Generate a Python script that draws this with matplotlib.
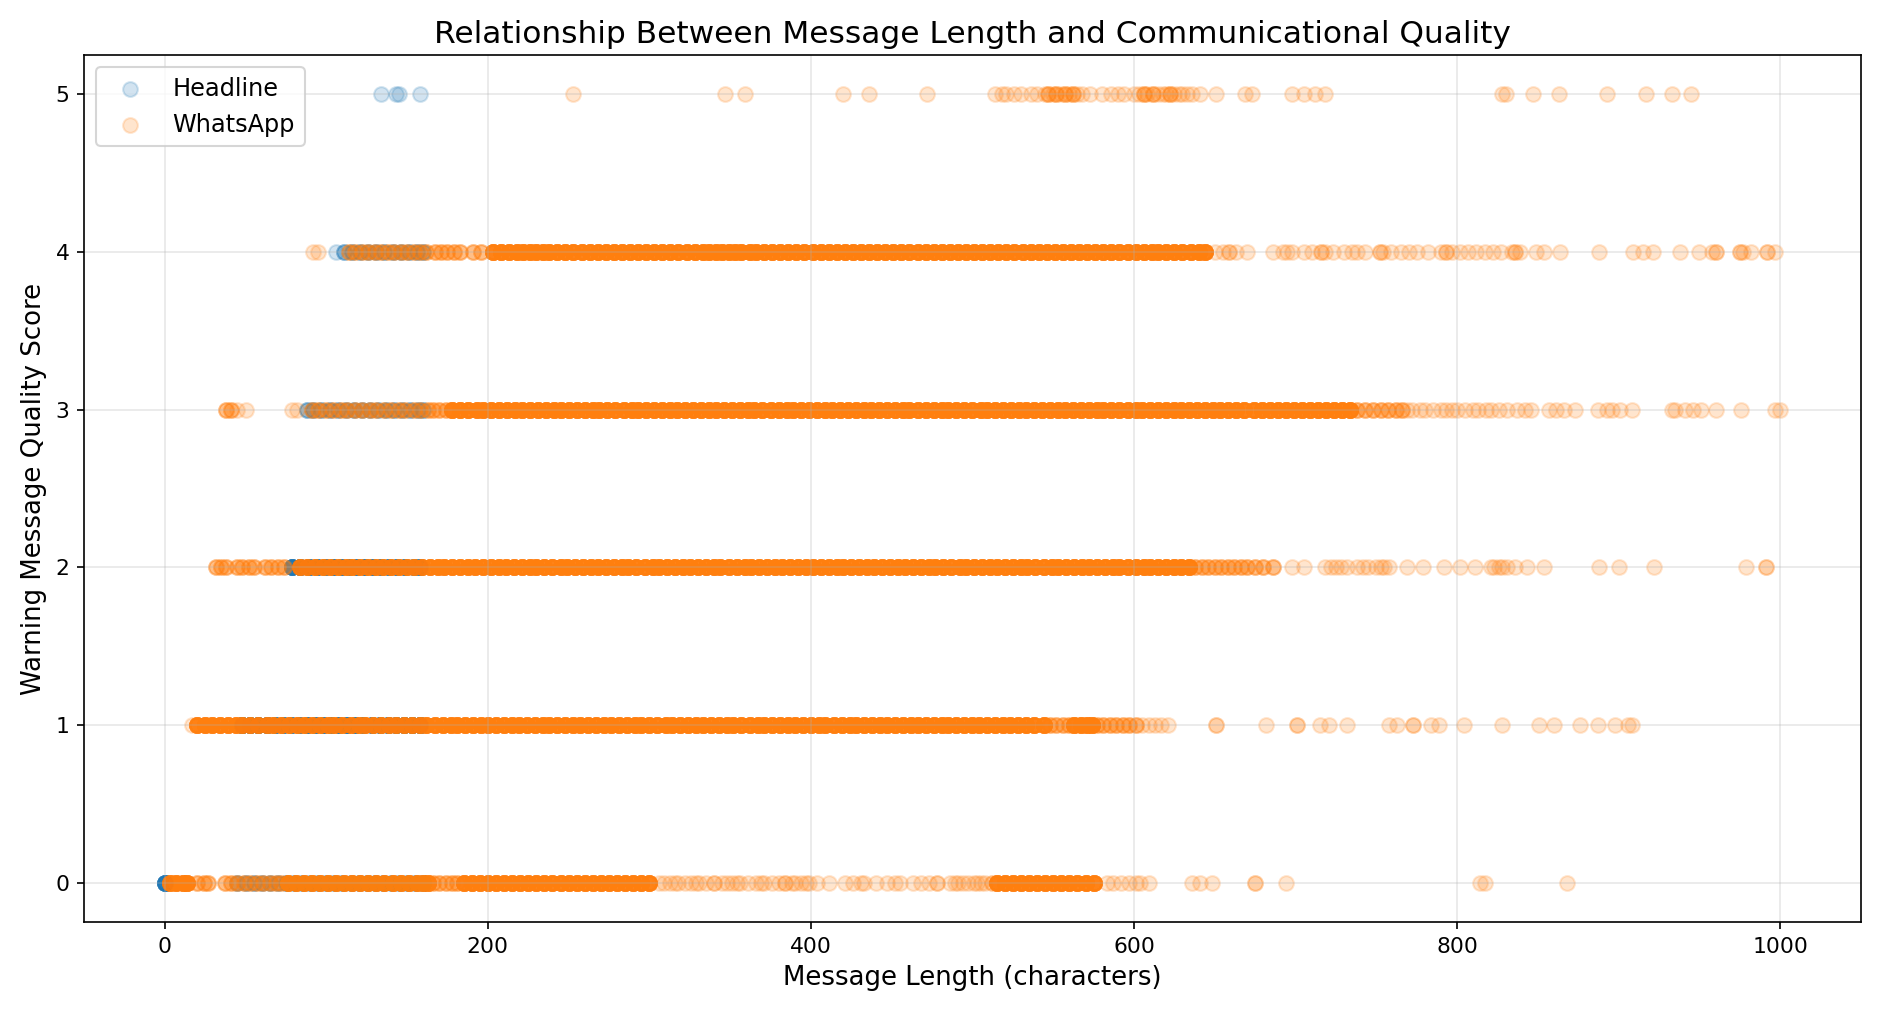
import matplotlib
matplotlib.use("Agg")
import matplotlib.pyplot as plt
import numpy as np

# messages per score level, grouped by how many messages share a length:
# *_one = one message each, *_few = a few (FEW), *_many = a pile (MANY)
FEW, MANY = 3, 14
scores = [0, 1, 2, 3, 4, 5]

# ---- Headline ----
hl_one = {4: [106], 5: [134, 143, 145, 158]}
hl_few = {
    0: [45, 50, 55, 60, 65, 70, 75, 80, 85, 90, 95, 100, 105, 110, 115, 120,
        125, 130, 135, 140, 145, 150, 155, 160],
    3: [88, 92, 97, 102, 107, 112, 117, 122, 127, 132, 137, 142, 147, 152, 157, 160],
    4: [111, 116, 121, 126, 131, 136, 141, 146, 151, 156, 160],
}
hl_many = {
    0: [0],
    1: [48, 53, 58, 63, 68, 73, 78, 83, 88, 93, 98, 103, 108, 113, 118, 123, 128,
        133, 138, 143, 148, 153, 158],
    2: [79, 84, 89, 94, 99, 104, 109, 114, 119, 124, 129, 134, 139, 144, 149, 154, 158],
}

# ---- WhatsApp ----
wa_one = {
    0: [306, 309, 313, 318, 322, 326, 331, 335, 340, 340, 345, 351, 356, 361, 366, 371,
        376, 380, 384, 384, 390, 394, 399, 404, 411, 421, 426, 433, 440, 447, 455, 463,
        473, 478, 478, 486, 491, 494, 501, 505, 508, 512, 512, 583, 587, 592, 597, 601,
        604, 609, 636, 641, 648, 675, 675, 694, 814, 817, 868,
        316, 329, 348, 354, 369, 388, 397, 431, 452, 468, 489, 497, 503],
    1: [17, 605, 609, 613, 617, 621, 651, 651, 682, 701, 701, 715, 721, 732, 758, 763,
        773, 773, 784, 789, 804, 828, 851, 860, 876, 887, 898, 906, 908],
    2: [698, 705, 718, 722, 725, 728, 732, 738, 742, 745, 750, 753, 755, 758, 769, 779,
        792, 802, 811, 821, 823, 826, 828, 831, 836, 843, 854, 888, 900, 922, 979, 991, 991],
    3: [45, 50, 79, 82, 769, 772, 777, 780, 785, 790, 793, 797, 800, 805, 810, 813,
        818, 821, 826, 831, 837, 842, 846, 857, 861, 866, 873, 887, 893, 896, 901, 908,
        933, 935, 941, 946, 951, 960, 976, 997, 1000],
    4: [92, 95, 650, 655, 659, 659, 663, 670, 686, 692, 695, 698, 705, 710, 716, 716,
        718, 723, 730, 735, 738, 743, 752, 752, 754, 759, 765, 770, 775, 782, 790, 793,
        793, 797, 802, 807, 812, 817, 822, 827, 834, 836, 836, 839, 849, 854, 864, 888,
        909, 915, 921, 938, 950, 958, 960, 960, 975, 975, 977, 982, 992, 992, 997],
    5: [253, 347, 359, 420, 436, 472, 514, 518, 521, 526, 530, 536, 540, 545, 550,
        555, 560, 565, 568, 573, 580, 586, 590, 594, 600, 603, 608, 615, 618, 620,
        625, 628, 630, 633, 636, 641, 651, 669, 673, 698, 705, 712, 718, 828, 830,
        847, 863, 893, 917, 933, 945],
}
wa_few = {
    0: [20, 24, 27, 37, 41, 45, 49, 53, 57, 61, 65, 69, 72, 166, 170, 174, 178, 181],
    1: [548, 552, 556, 560, 577, 581, 585, 589, 593, 597, 601],
    2: [32, 35, 38, 45, 48, 52, 55, 62, 66, 70, 74, 638, 642, 646, 650, 654, 658, 662,
        666, 670, 675, 680, 686],
    3: [38, 41, 91, 95, 100, 104, 109, 113, 118, 122, 127, 131, 136, 140, 145, 149, 154,
        158, 163, 166, 170, 174, 738, 743, 748, 753, 757, 762, 766],
    4: [114, 118, 122, 126, 130, 134, 138, 142, 146, 150, 154, 158, 162, 167, 171, 175,
        179, 183, 191, 196],
    5: [547, 552, 557, 562, 606, 612, 622],
}
wa_many = {
    0: [3, 7, 11, 14, 76, 81, 86, 91, 96, 101, 106, 111, 116, 121, 126, 131, 136, 141,
        146, 151, 156, 160, 163, 185, 190, 195, 200, 205, 210, 215, 220, 225, 230, 235,
        240, 245, 250, 255, 260, 265, 270, 275, 280, 285, 290, 295, 300, 515, 520, 525,
        530, 535, 540, 545, 550, 555, 560, 565, 570, 575],
    1: [20, 25, 29, 34, 39, 44, 48, 53, 58, 63, 67, 72, 77, 82, 86, 91, 96, 101, 105,
        110, 115, 120, 124, 129, 134, 139, 143, 148, 153, 158, 162, 167, 172, 177, 181,
        186, 191, 196, 200, 205, 210, 215, 219, 224, 229, 234, 238, 243, 248, 253, 257,
        262, 267, 272, 276, 281, 286, 291, 295, 300, 305, 310, 314, 319, 324, 329, 333,
        338, 343, 348, 352, 357, 362, 367, 371, 376, 381, 386, 390, 395, 400, 405, 409,
        414, 419, 424, 428, 433, 438, 443, 447, 452, 457, 462, 466, 471, 476, 481, 485,
        490, 495, 500, 504, 509, 514, 519, 523, 528, 533, 538, 544, 563, 567, 571, 574],
    2: [84, 88, 93, 98, 102, 107, 112, 116, 121, 126, 131, 135, 140, 145, 150, 154, 159,
        164, 169, 173, 178, 183, 188, 192, 197, 202, 207, 211, 216, 221, 226, 230, 235,
        240, 245, 249, 254, 259, 264, 268, 273, 278, 283, 287, 292, 297, 302, 306, 311,
        316, 321, 325, 330, 335, 340, 344, 349, 354, 359, 363, 368, 373, 378, 382, 387,
        392, 397, 401, 406, 411, 416, 420, 425, 430, 435, 439, 444, 449, 454, 458, 463,
        468, 473, 477, 482, 487, 492, 496, 501, 506, 511, 515, 520, 525, 530, 534, 539,
        544, 549, 553, 558, 563, 568, 572, 577, 582, 587, 591, 596, 601, 606, 610, 615,
        620, 625, 629, 634],
    3: [178, 183, 188, 193, 197, 202, 207, 212, 217, 221, 226, 231, 236, 241, 245, 250,
        255, 260, 265, 269, 274, 279, 284, 289, 293, 298, 303, 308, 313, 317, 322, 327,
        332, 337, 341, 346, 351, 356, 361, 365, 370, 375, 380, 385, 389, 394, 399, 404,
        409, 413, 418, 423, 428, 433, 437, 442, 447, 452, 457, 461, 466, 471, 476, 481,
        485, 490, 495, 500, 505, 509, 514, 519, 524, 529, 533, 538, 543, 548, 553, 557,
        562, 567, 572, 577, 581, 586, 591, 596, 601, 605, 610, 615, 620, 625, 629, 634,
        639, 644, 649, 653, 658, 663, 668, 674, 679, 684, 689, 694, 699, 704, 709, 714,
        719, 724, 729, 734],
    4: [203, 208, 213, 218, 222, 226, 230, 234, 238, 243, 248, 253, 258, 263, 268, 273,
        278, 283, 288, 293, 298, 303, 308, 313, 318, 323, 328, 333, 337, 341, 345, 349,
        353, 357, 362, 366, 371, 376, 381, 386, 391, 396, 401, 406, 411, 416, 421, 426,
        431, 436, 441, 446, 451, 456, 461, 466, 471, 476, 481, 486, 491, 496, 501, 506,
        511, 516, 521, 526, 531, 536, 541, 546, 551, 556, 561, 566, 571, 576, 581, 586,
        591, 596, 601, 606, 611, 615, 620, 625, 630, 635, 640, 644],
}


def series_points(one, few, many):
    xs, ys = [], []
    for s in scores:
        for vals, n in ((one.get(s, []), 1), (few.get(s, []), FEW), (many.get(s, []), MANY)):
            if vals:
                xs.append(np.repeat(vals, n))
                ys.append(np.full(len(vals) * n, s))
    return np.concatenate(xs), np.concatenate(ys)


hl_x, hl_y = series_points(hl_one, hl_few, hl_many)
wa_x, wa_y = series_points(wa_one, wa_few, wa_many)

fig = plt.figure(figsize=(1883 / 150, 1020 / 150), dpi=150)
ax = fig.add_axes([0.0446, 0.096, 0.9437, 0.85])

ax.scatter(hl_x, hl_y, s=50, alpha=0.2, label="Headline")
ax.scatter(wa_x, wa_y, s=50, alpha=0.2, label="WhatsApp")

ax.set_title("Relationship Between Message Length and Communicational Quality", fontsize=15)
ax.set_xlabel("Message Length (characters)", fontsize=12.5)
ax.set_ylabel("Warning Message Quality Score", fontsize=12.5)
ax.tick_params(labelsize=10.5)
ax.legend(loc="upper left", fontsize=11.5)
ax.grid(True, alpha=0.3)

fig.savefig("out.png", dpi=150)
